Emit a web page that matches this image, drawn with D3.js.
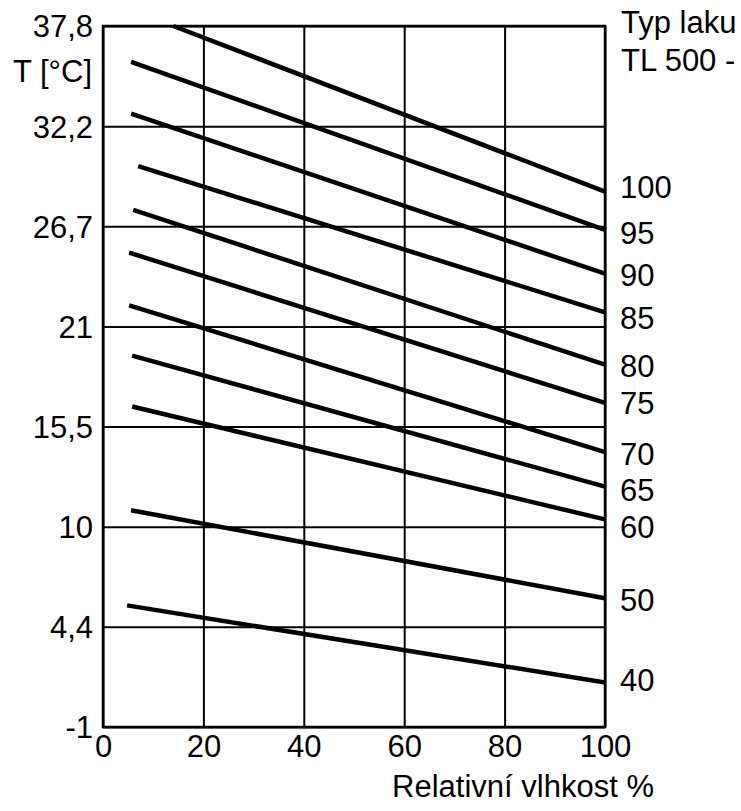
<!DOCTYPE html>
<html>
<head>
<meta charset="utf-8">
<script src="https://cdn.jsdelivr.net/npm/d3@7"></script>
<style>
  body { margin: 0; background: #fff; }
  text { font-family: "Liberation Sans", Arial, sans-serif; font-size: 31px; fill: #000; }
</style>
</head>
<body>
<div id="chart"></div>
<script>
// DATA
var lacquerTypes = [100, 95, 90, 85, 80, 75, 70, 65, 60, 50, 40];
var rhStart = [14, 5.6, 5.6, 7, 6, 5.2, 5.2, 5.8, 5.8, 5.6, 4.8];
var tStart  = [37.8, 35.8, 32.9, 30.0, 27.6, 25.2, 22.2, 19.4, 16.6, 10.9, 5.6];
var rhEnd   = [100, 100, 100, 100, 100, 100, 100, 100, 100, 100, 100];
var tEnd    = [28.6, 26.5, 24.0, 21.8, 18.9, 16.8, 14.1, 12.2, 10.4, 6.0, 1.4];
var xTicks = [0, 20, 40, 60, 80, 100];
var yTicks = [-1, 4.4, 10, 15.5, 21, 26.7, 32.2, 37.8];

// small vertical nudges for the right-hand labels (layout only)
var labelNudge = [-5, 3, 1.5, 5.5, 1.5, 0.5, 2, 3, 8, 2, -2];

var W = 741, H = 811;
var margin = {top: 26, right: 136, bottom: 84, left: 103},
    width = W - margin.left - margin.right,
    height = H - margin.top - margin.bottom;

var svg = d3.select("#chart").append("svg")
    .attr("width", W).attr("height", H);
var g = svg.append("g")
    .attr("transform", "translate(" + margin.left + "," + margin.top + ")");

var x = d3.scaleLinear().domain([0, 100]).range([0, width]);
// tick values are °F steps shown in °C, so they sit evenly spaced
var y = d3.scaleLinear()
    .domain(yTicks)
    .range(yTicks.map(function(d, i) { return height - i * height / (yTicks.length - 1); }));

function fmt(d) { return String(d).replace(".", ","); }

// X axis + vertical grid
var xAxis = g.append("g")
    .attr("transform", "translate(0," + height + ")")
    .call(d3.axisBottom(x).tickValues(xTicks).tickSizeInner(-height).tickSizeOuter(0).tickPadding(9));
xAxis.select(".domain").remove();
xAxis.selectAll("line").attr("stroke", "#000").attr("stroke-width", 2);
xAxis.selectAll("text").attr("font-family", null).attr("dy", "0.69em");

// Y axis + horizontal grid
var yAxis = g.append("g")
    .call(d3.axisLeft(y).tickValues(yTicks).tickFormat(fmt).tickSizeInner(-width).tickSizeOuter(0).tickPadding(10));
yAxis.select(".domain").remove();
yAxis.selectAll("line").attr("stroke", "#000").attr("stroke-width", 2);
yAxis.selectAll("text").attr("font-family", null).attr("dy", "0.35em");

// frame
g.append("rect")
    .attr("x", 0).attr("y", 0)
    .attr("width", width).attr("height", height)
    .attr("fill", "none").attr("stroke", "#000").attr("stroke-width", 2.5);

// lacquer lines
var rows = lacquerTypes.map(function(t, i) {
  return {type: t, x0: rhStart[i], y0: tStart[i], x1: rhEnd[i], y1: tEnd[i], nudge: labelNudge[i]};
});

g.selectAll(".lak")
    .data(rows)
    .enter()
    .append("line")
      .attr("class", "lak")
      .attr("x1", function(d) { return x(d.x0); })
      .attr("y1", function(d) { return y(d.y0); })
      .attr("x2", function(d) { return x(d.x1); })
      .attr("y2", function(d) { return y(d.y1); })
      .attr("stroke", "#000")
      .attr("stroke-width", 4.5);

g.selectAll(".lbl")
    .data(rows)
    .enter()
    .append("text")
      .attr("class", "lbl")
      .attr("x", width + 15)
      .attr("y", function(d) { return y(d.y1) + d.nudge; })
      .attr("dy", "0.35em")
      .text(function(d) { return d.type; });

// titles
svg.append("text").attr("x", 92).attr("y", 82).attr("text-anchor", "end").text("T [°C]");
svg.append("text").attr("x", 621).attr("y", 33).text("Typ laku");
svg.append("text").attr("x", 621).attr("y", 71).text("TL 500 -");
svg.append("text").attr("x", 654).attr("y", 797).attr("text-anchor", "end").text("Relativní vlhkost %");
</script>
</body>
</html>
